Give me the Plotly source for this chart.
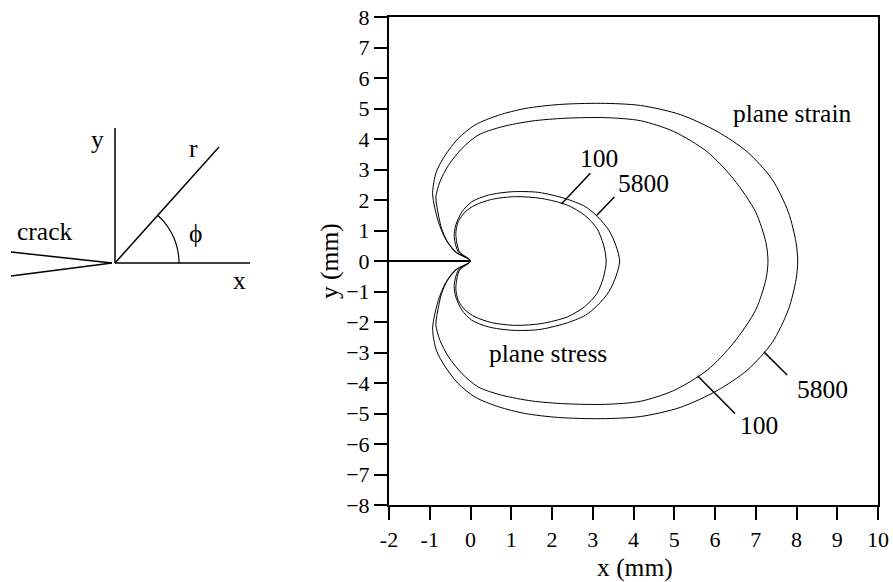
import math
import plotly.graph_objects as go

# ---------------- data (upper half of each plastic-zone boundary, mm) ----------------
# plane strain, 5800
ps5800_x = [0.0, -0.38, -0.62, -0.79, -0.90, -0.93, -0.84, -0.62, -0.30, 0.11, 0.69, 1.34, 2.16, 3.20,
            4.17, 5.15, 6.05, 6.79, 7.40, 7.80, 7.99, 8.03]
ps5800_y = [0.0, 0.30, 0.74, 1.29, 1.90, 2.25, 2.92, 3.47, 4.02, 4.46, 4.78, 5.00, 5.13, 5.17,
            5.10, 4.80, 4.25, 3.58, 2.68, 1.60, 0.60, 0.0]
# plane strain, 100
ps100_x = [0.0, -0.34, -0.56, -0.71, -0.83, -0.85, -0.75, -0.54, -0.21, 0.19, 0.77, 1.51, 2.32, 3.31,
           4.17, 4.98, 5.81, 6.46, 7.00, 7.25, 7.30]
ps100_y = [0.0, 0.28, 0.62, 1.07, 1.83, 2.10, 2.60, 3.14, 3.69, 4.13, 4.40, 4.59, 4.68, 4.70,
           4.60, 4.25, 3.58, 2.68, 1.60, 0.60, 0.0]
# plane stress, 5800
pst5800_x = [0.0, -0.30, -0.40, -0.36, -0.21, 0.03, 0.44, 1.01, 1.67, 2.32, 2.82, 3.12, 3.40, 3.57, 3.66]
pst5800_y = [0.0, 0.30, 0.80, 1.18, 1.61, 1.94, 2.16, 2.27, 2.25, 2.05, 1.78, 1.45, 1.00, 0.50, 0.0]
# plane stress, 100
pst100_x = [0.0, -0.27, -0.36, -0.30, -0.13, 0.11, 0.52, 1.10, 1.75, 2.38, 2.80, 3.10, 3.26, 3.33]
pst100_y = [0.0, 0.30, 0.90, 1.29, 1.61, 1.83, 2.02, 2.11, 2.05, 1.83, 1.50, 1.07, 0.55, 0.0]

crack_x = [-2.0, 0.0]
crack_y = [0.0, 0.0]

x_ticks = [-2, -1, 0, 1, 2, 3, 4, 5, 6, 7, 8, 9, 10]
x_ticktext = ["-2", "-1", "0", "1", "2", "3", "4", "5", "6", "7", "8", "9", "10"]
y_ticks = list(range(-8, 9))
y_ticktext = [("\u2212" + str(-v)) if v < 0 else str(v) for v in y_ticks]

FONT = "Liberation Serif"
TXT = 25.5


def closed(ux, uy):
    xs = list(ux) + list(ux[-2::-1])
    ys = list(uy) + [-v for v in uy[-2::-1]]
    return xs, ys


fig = go.Figure()
for ux, uy in [(ps5800_x, ps5800_y), (ps100_x, ps100_y), (pst5800_x, pst5800_y), (pst100_x, pst100_y)]:
    xs, ys = closed(ux, uy)
    fig.add_trace(go.Scatter(x=xs, y=ys, mode="lines",
                             line=dict(color="black", width=1, shape="spline", smoothing=0.8),
                             hoverinfo="skip", showlegend=False))
fig.add_trace(go.Scatter(x=crack_x, y=crack_y, mode="lines", line=dict(color="black", width=2),
                         hoverinfo="skip", showlegend=False))

W, H = 893, 582
L, R, T, B = 389, 15, 17, 77
PW, PH = W - L - R, H - T - B


def pp(px, py):
    return (px - L) / PW, (H - B - py) / PH


shapes = []
# leader lines (data coords)
for (x0, y0, x1, y1) in [(2.94, 2.88, 2.23, 1.87), (3.53, 2.10, 3.10, 1.50),
                         (7.20, -2.98, 7.77, -3.74), (5.57, -3.76, 6.49, -5.0)]:
    shapes.append(dict(type="line", xref="x", yref="y", x0=x0, y0=y0, x1=x1, y1=y1,
                       line=dict(color="black", width=1.5)))


# left diagram (pixel positions converted to paper coords)
def pline(a, b, w=1.5):
    x0, y0 = pp(*a)
    x1, y1 = pp(*b)
    shapes.append(dict(type="line", xref="paper", yref="paper", x0=x0, y0=y0, x1=x1, y1=y1,
                       line=dict(color="black", width=w)))


origin = (115, 263)
pline((115, 128), origin)
pline(origin, (250, 263))
pline(origin, (219, 147))
pline((11, 252), (112, 263))
pline((11, 276), (112, 263))
pts = []
for k in range(0, 25):
    a = math.radians(48 * k / 24)
    pts.append(pp(origin[0] + 64 * math.cos(a), origin[1] - 64 * math.sin(a)))
path = "M " + " L ".join(f"{x:.5f},{y:.5f}" for x, y in pts)
shapes.append(dict(type="path", xref="paper", yref="paper", path=path, line=dict(color="black", width=1.2)))

annotations = []


def ptext(txt, px, py, size=TXT, angle=0):
    x, y = pp(px, py)
    annotations.append(dict(text=txt, x=x, y=y, xref="paper", yref="paper", showarrow=False,
                            xanchor="center", yanchor="middle", textangle=angle,
                            font=dict(family=FONT, size=size, color="black")))


ptext("y", 97, 139)
ptext("r", 193, 149)
ptext("\u03d5", 195, 233)
ptext("crack", 44, 231)
ptext("x", 239, 280)
ptext("y (mm)", 329, 261, angle=-90)
ptext("x (mm)", 635, 567)


def dtext(txt, x, y, size=TXT):
    annotations.append(dict(text=txt, x=x, y=y, xref="x", yref="y", showarrow=False,
                            xanchor="center", yanchor="middle", font=dict(family=FONT, size=size, color="black")))


dtext("plane strain", 7.90, 4.85)
dtext("100", 3.16, 3.37)
dtext("5800", 4.24, 2.55)
dtext("plane stress", 1.91, -3.02)
dtext("5800", 8.64, -4.20)
dtext("100", 7.09, -5.38)

fig.update_layout(
    width=W, height=H, margin=dict(l=L, r=R, t=T, b=B, autoexpand=False),
    paper_bgcolor="white", plot_bgcolor="white",
    shapes=shapes, annotations=annotations,
    font=dict(family=FONT, color="black"),
    xaxis=dict(range=[-2, 10], tickvals=x_ticks, ticktext=x_ticktext, showgrid=False, zeroline=False,
               showline=True, linecolor="black", linewidth=2, mirror=True, ticks="outside",
               ticklen=13, tickwidth=1.5, tickcolor="black", tickfont=dict(family=FONT, size=22),
               ticklabelstandoff=1, automargin=False),
    yaxis=dict(range=[-8, 8], tickvals=y_ticks, ticktext=y_ticktext, showgrid=False, zeroline=False,
               showline=True, linecolor="black", linewidth=2, mirror=True, ticks="outside",
               ticklen=13, tickwidth=1.5, tickcolor="black", tickfont=dict(family=FONT, size=22),
               automargin=False),
)

fig.write_html("out.html")
